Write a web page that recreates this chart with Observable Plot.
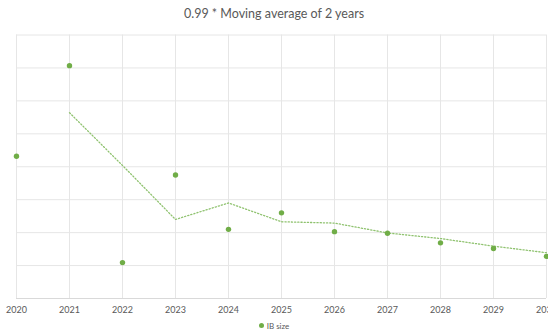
<!DOCTYPE html>
<html>
<head>
<meta charset="utf-8">
<script src="https://cdn.jsdelivr.net/npm/d3@7"></script>
<script src="https://cdn.jsdelivr.net/npm/@observablehq/plot@0.6"></script>
<style>
  body { margin: 0; background: #fff; overflow: hidden; }
  #wrap { position: relative; width: 548px; height: 331px; font-family: Lato, "Open Sans", sans-serif; }
  #title { position: absolute; top: 6px; left: 0; width: 548px; text-align: center; font-size: 12.5px; color: #595959; }
  #legend { position: absolute; top: 321px; left: 0; width: 548px; text-align: center; font-size: 8px; color: #595959; }
  #legend .dot { display: inline-block; width: 5px; height: 5px; border-radius: 50%; background: #70ad47; margin-right: 3px; vertical-align: middle; position: relative; top: -1px; }
  svg { position: absolute; top: 0; left: 0; }
</style>
</head>
<body>
<div id="wrap">
  <div id="title">0.99 * Moving average of 2 years</div>
  <div id="legend"><span class="dot"></span>IB size</div>
</div>
<script>
const years = [2020, 2021, 2022, 2023, 2024, 2025, 2026, 2027, 2028, 2029, 2030];
const ibSize = [4.32, 7.07, 1.09, 3.75, 2.10, 2.60, 2.03, 1.98, 1.69, 1.52, 1.28];
const trendYears = [2021, 2022, 2023, 2024, 2025, 2026, 2027, 2028, 2029, 2030];
const trendValues = [5.64, 4.04, 2.40, 2.90, 2.33, 2.29, 1.99, 1.82, 1.59, 1.39];
const yGrid = [0, 1, 2, 3, 4, 5, 6, 7, 8];
const seriesName = "IB size";

const points = years.map((y, i) => ({year: y, value: ibSize[i]}));
const trend = trendYears.map((y, i) => ({year: y, value: trendValues[i]}));

const chart = Plot.plot({
  width: 548,
  height: 331,
  marginTop: 34.5,
  marginBottom: 33,
  marginLeft: 16,
  marginRight: 2,
  style: {background: "transparent", fontFamily: "Lato, 'Open Sans', sans-serif"},
  x: {domain: [2020, 2030], label: null},
  y: {domain: [0, 8], axis: null},
  marks: [
    Plot.ruleY(yGrid, {stroke: "#e6e6e6", strokeWidth: 1}),
    Plot.ruleX(years, {stroke: "#e6e6e6", strokeWidth: 1}),
    Plot.ruleY([0], {stroke: "#d9d9d9", strokeWidth: 1}),
    Plot.axisX({ticks: years, tickFormat: d => String(d), tickSize: 0, tickPadding: 8, fontSize: 9, fill: "#595959", label: null}),
    Plot.line(trend, {x: "year", y: "value", stroke: "#8fc26f", strokeWidth: 1.3, strokeDasharray: "1.2,2"}),
    Plot.dot(points, {x: "year", y: "value", r: 2.7, fill: "#70ad47", stroke: "none"})
  ]
});
document.getElementById("wrap").prepend(chart);
</script>
</body>
</html>
